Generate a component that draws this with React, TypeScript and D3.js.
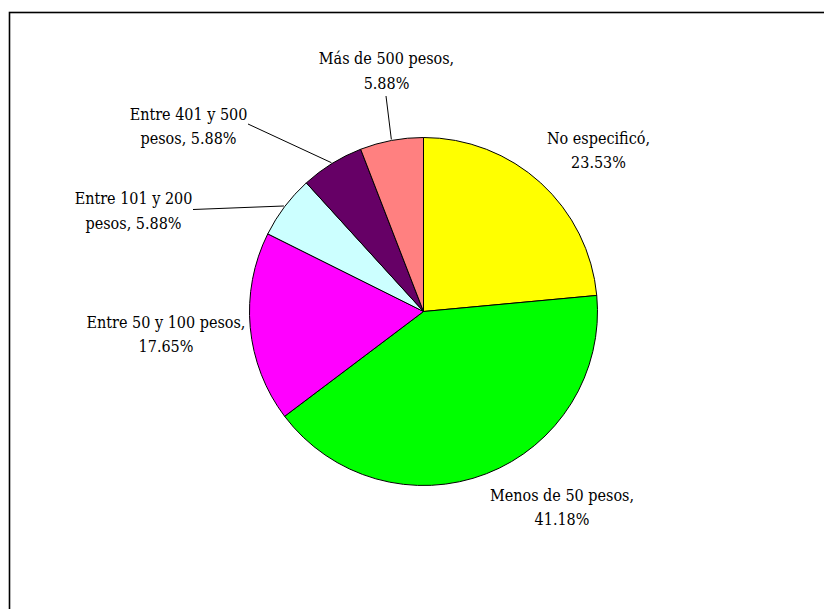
import React from "react";
import * as d3 from "d3";

const categories = [
  "No especificó",
  "Menos de 50 pesos",
  "Entre 50 y 100 pesos",
  "Entre 101 y 200 pesos",
  "Entre 401 y 500 pesos",
  "Más de 500 pesos",
];
const percentages = [23.53, 41.18, 17.65, 5.88, 5.88, 5.88];
const sliceColors = ["#FFFF00", "#00FF00", "#FF00FF", "#CCFFFF", "#660066", "#FF8080"];
const labelLines = [
  ["No especificó,", "23.53%"],
  ["Menos de 50 pesos,", "41.18%"],
  ["Entre 50 y 100 pesos,", "17.65%"],
  ["Entre 101 y 200", "pesos, 5.88%"],
  ["Entre 401 y 500", "pesos, 5.88%"],
  ["Más de 500 pesos,", "5.88%"],
];

// layout (label anchors: center x, first baseline y; leader start or null)
const labelLayout: { x: number; y: number; leader: [number, number] | null }[] = [
  { x: 598.5, y: 143.5, leader: null },
  { x: 562, y: 500.5, leader: null },
  { x: 166, y: 327.5, leader: null },
  { x: 133.5, y: 204, leader: [193, 209.5] },
  { x: 188.5, y: 119.5, leader: [248, 124] },
  { x: 386.5, y: 64, leader: [386, 96] },
];

const W = 824;
const H = 609;
const cx = 423.5;
const cy = 311.5;
const R = 174;
const lineGap = 24.5;
const FONT = "'DejaVu Serif'";

export default function App() {
  const pie = d3
    .pie<number>()
    .sort(null)
    .value((d) => d)
    .startAngle(0)
    .endAngle(2 * Math.PI);
  const arcs = pie(percentages);
  const arcGen = d3.arc<d3.PieArcDatum<number>>().innerRadius(0).outerRadius(R);
  const edgeGen = d3.arc<d3.PieArcDatum<number>>().innerRadius(R + 1).outerRadius(R + 1);

  return (
    <svg
      width={W}
      height={H}
      style={{ position: "absolute", left: 0, top: 0, background: "#fff", fontFamily: FONT }}
    >
      <rect x={0} y={0} width={W} height={H} fill="#fff" />
      <rect x={9.5} y={12.5} width={W + 40} height={H + 40} fill="none" stroke="#000" strokeWidth={1.6} />
      <g transform={`translate(${cx},${cy})`}>
        {arcs.map((a, i) => (
          <path key={categories[i]} d={arcGen(a) || ""} fill={sliceColors[i]} stroke="#000" strokeWidth={1} />
        ))}
      </g>
      {arcs.map((a, i) => {
        const L = labelLayout[i];
        if (!L.leader) return null;
        const [ex, ey] = edgeGen.centroid(a);
        return (
          <line
            key={"l" + i}
            x1={L.leader[0]}
            y1={L.leader[1]}
            x2={cx + ex}
            y2={cy + ey}
            stroke="#000"
            strokeWidth={1}
          />
        );
      })}
      {labelLines.map((lines, i) => (
        <text
          key={"t" + i}
          textAnchor="middle"
          fill="#000"
          style={{ fontFamily: FONT, fontSize: "16px", fontStretch: "condensed" }}
        >
          {lines.map((ln, j) => (
            <tspan key={j} x={labelLayout[i].x} y={labelLayout[i].y + j * lineGap}>
              {ln}
            </tspan>
          ))}
        </text>
      ))}
    </svg>
  );
}
